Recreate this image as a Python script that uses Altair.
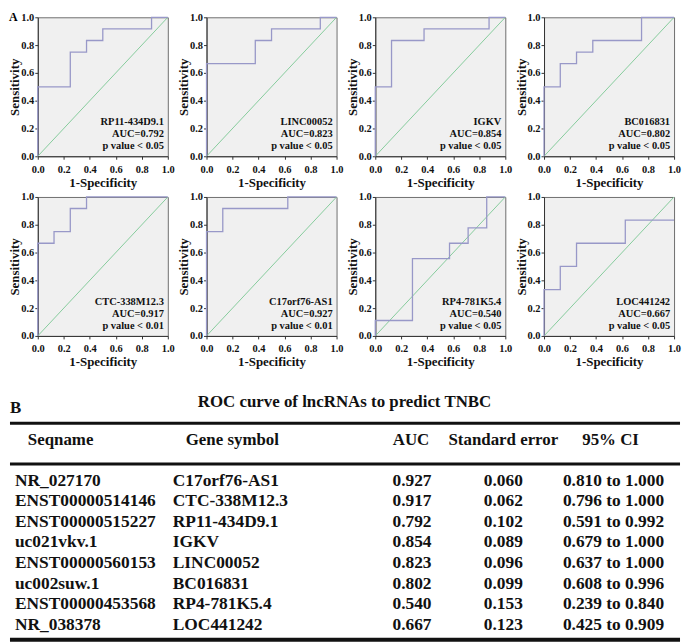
import altair as alt
import pandas as pd

FONT = "Liberation Serif"
BLUE = "#9898c8"
GREEN = "#86cc9c"

panel_letters = ["A", "B"]
genes = ["RP11-434D9.1", "LINC00052", "IGKV", "BC016831",
         "CTC-338M12.3", "C17orf76-AS1", "RP4-781K5.4", "LOC441242"]
auc_labels = ["AUC=0.792", "AUC=0.823", "AUC=0.854", "AUC=0.802",
              "AUC=0.917", "AUC=0.927", "AUC=0.540", "AUC=0.667"]
p_labels = ["p value < 0.05", "p value < 0.05", "p value < 0.05", "p value < 0.05",
            "p value < 0.01", "p value < 0.01", "p value < 0.05", "p value < 0.05"]

# ROC points (1-specificity, sensitivity), drawn with step-after interpolation
fpr_1 = [0, 0, 0.25, 0.375, 0.5, 0.875, 1.0]
tpr_1 = [0, 0.5, 0.75, 0.833, 0.917, 1.0, 1.0]
fpr_2 = [0, 0, 0.375, 0.5, 0.875, 1.0]
tpr_2 = [0, 0.667, 0.833, 0.917, 1.0, 1.0]
fpr_3 = [0, 0, 0.125, 0.375, 0.875, 1.0]
tpr_3 = [0, 0.5, 0.833, 0.917, 1.0, 1.0]
fpr_4 = [0, 0, 0.125, 0.25, 0.375, 0.75, 1.0]
tpr_4 = [0, 0.5, 0.667, 0.75, 0.833, 1.0, 1.0]
fpr_5 = [0, 0, 0.125, 0.25, 0.375, 1.0]
tpr_5 = [0, 0.667, 0.75, 0.917, 1.0, 1.0]
fpr_6 = [0, 0, 0.125, 0.625, 1.0]
tpr_6 = [0, 0.75, 0.917, 1.0, 1.0]
fpr_7 = [0, 0, 0.286, 0.571, 0.714, 0.857, 1.0]
tpr_7 = [0, 0.111, 0.556, 0.667, 0.778, 1.0, 1.0]
fpr_8 = [0, 0, 0.125, 0.25, 0.625, 1.0]
tpr_8 = [0, 0.333, 0.5, 0.667, 0.833, 0.833]

fprs = [fpr_1, fpr_2, fpr_3, fpr_4, fpr_5, fpr_6, fpr_7, fpr_8]
tprs = [tpr_1, tpr_2, tpr_3, tpr_4, tpr_5, tpr_6, tpr_7, tpr_8]

diag_x = [0.0, 1.0]
diag_y = [0.0, 1.0]
tick_vals = [0.0, 0.2, 0.4, 0.6, 0.8, 1.0]
x_title = "1-Specificity"
y_title = "Sensitivity"

# Table data
table_title = "ROC curve of lncRNAs to predict TNBC"
headers = ["Seqname", "Gene symbol", "AUC", "Standard error", "95% CI"]
seqnames = ["NR_027170", "ENST00000514146", "ENST00000515227", "uc021vkv.1",
            "ENST00000560153", "uc002suw.1", "ENST00000453568", "NR_038378"]
symbols = ["C17orf76-AS1", "CTC-338M12.3", "RP11-434D9.1", "IGKV",
           "LINC00052", "BC016831", "RP4-781K5.4", "LOC441242"]
tab_auc = ["0.927", "0.917", "0.792", "0.854", "0.823", "0.802", "0.540", "0.667"]
tab_se = ["0.060", "0.062", "0.102", "0.089", "0.096", "0.099", "0.153", "0.123"]
tab_ci = ["0.810 to 1.000", "0.796 to 1.000", "0.591 to 0.992", "0.679 to 1.000",
          "0.637 to 1.000", "0.608 to 0.996", "0.239 to 0.840", "0.425 to 0.909"]

W, H = 131, 140


def panel(k):
    roc = pd.DataFrame({"fpr": fprs[k], "tpr": tprs[k], "i": list(range(len(fprs[k])))})
    diag = pd.DataFrame({"fpr": diag_x, "tpr": diag_y})
    xenc = alt.X("fpr:Q", scale=alt.Scale(domain=[0, 1], nice=False, zero=False),
                 axis=alt.Axis(values=tick_vals, format=".1f", title=x_title,
                               titleX=W / 2, titleY=26, titleBaseline="middle",
                               labelPadding=5))
    yenc = alt.Y("tpr:Q", scale=alt.Scale(domain=[0, 1], nice=False, zero=False),
                 axis=alt.Axis(values=tick_vals, format=".1f", title=y_title,
                               titleX=-23, titleY=H / 2, titleBaseline="middle",
                               titleAngle=270, labelPadding=1))
    d = alt.Chart(diag).mark_line(color=GREEN, strokeWidth=1).encode(x=xenc, y=yenc)
    s = alt.Chart(roc).mark_line(color=BLUE, strokeWidth=1.3, interpolate="step-after").encode(
        x=xenc, y=yenc, order="i:Q")
    layers = [d, s]
    texts = [genes[k], auc_labels[k], p_labels[k]]
    ys = [106, 118, 130]
    for t, yy in zip(texts, ys):
        layers.append(
            alt.Chart(pd.DataFrame({"t": [t]})).mark_text(
                align="right", baseline="middle", font=FONT, fontWeight="bold",
                fontSize=10.5, color="#111").encode(
                x=alt.value(W - 4), y=alt.value(yy), text="t:N"))
    if k == 0:
        layers.append(
            alt.Chart(pd.DataFrame({"t": [panel_letters[0]]})).mark_text(
                align="left", baseline="top", font=FONT, fontWeight="bold",
                fontSize=12, color="#000").encode(
                x=alt.value(-29), y=alt.value(-5), text="t:N"))
    return alt.layer(*layers).properties(
        width=W, height=H,
        view=alt.ViewBackground(fill="#f0f0f0", stroke="#6e6e6e", strokeWidth=1))


# ---------------- table ----------------
tab = pd.DataFrame({"seq": seqnames, "sym": symbols, "auc": tab_auc,
                    "se": tab_se, "ci": tab_ci, "row": list(range(len(seqnames)))})
ty = alt.Y("row:Q", scale=alt.Scale(domain=[0, 7], range=[105, 250]), axis=None)
TFS = 17.5
HFS = 17


def col_text(field, xpos, align):
    return alt.Chart(tab).mark_text(align=align, baseline="middle", font=FONT,
                                    fontWeight="bold", fontSize=TFS, color="#111").encode(
        x=alt.value(xpos), y=ty, text=f"{field}:N")


def fixed_text(t, xpos, ypos, align, size):
    return alt.Chart(pd.DataFrame({"t": [t]})).mark_text(
        align=align, baseline="middle", font=FONT, fontWeight="bold",
        fontSize=size, color="#111").encode(x=alt.value(xpos), y=alt.value(ypos), text="t:N")


def hline(ypos, sw):
    return alt.Chart(pd.DataFrame({"t": [0]})).mark_rule(color="#111", strokeWidth=sw).encode(
        x=alt.value(-28), x2=alt.value(647), y=alt.value(ypos))


header_x = [23, 196, 376, 469, 577]
table_layers = [
    fixed_text(panel_letters[1], -28, 32, "left", 17),
    fixed_text(table_title, 309, 26, "center", 17),
    hline(47, 3),
    hline(88, 3),
    hline(265, 4),
]
for h, hx in zip(headers, header_x):
    table_layers.append(fixed_text(h, hx, 64, "center", HFS))
table_layers += [
    col_text("seq", -23, "left"),
    col_text("sym", 136, "left"),
    col_text("auc", 377, "center"),
    col_text("se", 469, "center"),
    col_text("ci", 580, "center"),
]
table = alt.layer(*table_layers).properties(
    width=W, height=267,
    view=alt.ViewBackground(fill="transparent", strokeWidth=0))

chart = alt.concat(*[panel(k) for k in range(8)], table, columns=4,
                   spacing={"row": 41, "column": 39}, bounds="flush", align="none").properties(
    padding=0
).configure_view(strokeWidth=0).configure_axis(
    labelFont=FONT, labelFontWeight="bold", labelFontSize=10.5, labelColor="#111",
    titleFont=FONT, titleFontWeight="bold", titleFontSize=13, titleColor="#111",
    domainColor="#333", tickColor="#333", tickSize=3, grid=False,
    labelFlush=False, labelOverlap=False
)

chart.save("out.html", embed_options={"renderer": "svg", "actions": False})
